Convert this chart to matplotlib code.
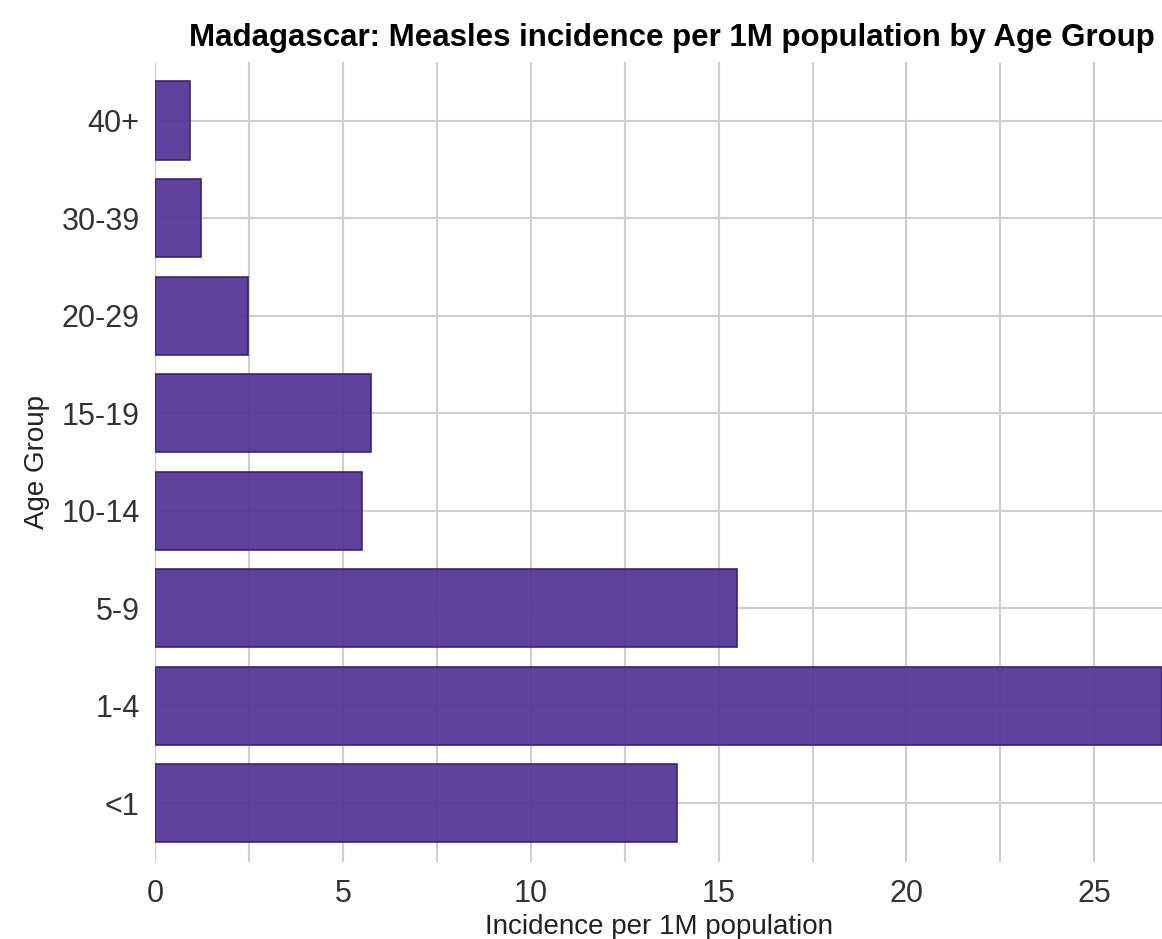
import matplotlib.pyplot as plt
from matplotlib.ticker import MultipleLocator

age_groups = ["<1", "1-4", "5-9", "10-14", "15-19", "20-29", "30-39", "40+"]
incidence = [13.88, 26.8, 15.48, 5.5, 5.74, 2.47, 1.22, 0.93]

BAR_COLOR = "#573799"
GRID_COLOR = "#cfcfcf"

plt.rcParams.update({"font.family": ["Liberation Sans", "DejaVu Sans"]})

fig = plt.figure(figsize=(11.62, 9.39), dpi=100)
ax = fig.add_axes([0.1334, 0.082, 0.8666, 0.852])

ax.barh(range(len(age_groups)), incidence, height=0.8, color=BAR_COLOR, alpha=0.95,
        edgecolor="#35206a", linewidth=1.2, zorder=3)

ax.set_yticks(range(len(age_groups)))
ax.set_yticklabels(age_groups)
ax.set_xlim(0, 26.8)
ax.set_ylim(-0.6, 7.6)
ax.xaxis.set_major_locator(MultipleLocator(5))
ax.xaxis.set_minor_locator(MultipleLocator(2.5))
ax.grid(True, which="both", axis="x", color=GRID_COLOR, lw=1.5, zorder=0)
ax.grid(True, which="major", axis="y", color=GRID_COLOR, lw=1.5, zorder=0)
ax.set_axisbelow(True)
for s in ax.spines.values():
    s.set_visible(False)
ax.tick_params(which="both", length=0, labelsize=22, colors="#333333", pad=12)
ax.tick_params(axis="y", pad=11)

ax.set_xlabel("Incidence per 1M population", fontsize=20, color="#222222", labelpad=4)
ax.set_ylabel("Age Group", fontsize=20, color="#222222", labelpad=8)
fig.suptitle("Madagascar: Measles incidence per 1M population by Age Group",
             x=0.994, y=0.976, ha="right", va="top", fontsize=22.5, fontweight="bold")

fig.savefig("out.png", dpi=100, facecolor="white")
